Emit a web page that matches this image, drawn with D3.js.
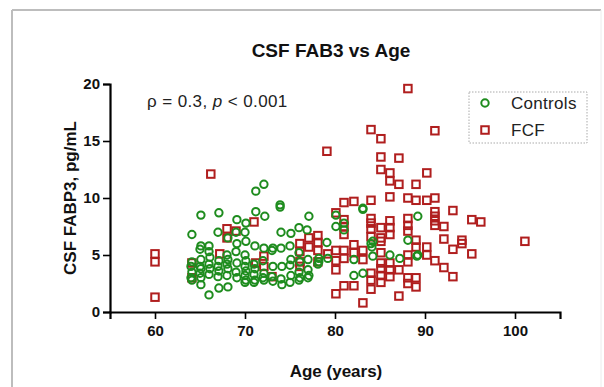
<!DOCTYPE html>
<html>
<head>
<meta charset="utf-8">
<script src="https://cdn.jsdelivr.net/npm/d3@7"></script>
<style>
  body { margin: 0; background: #fff; }
  svg { display: block; font-family: "Liberation Sans", Arial, sans-serif; }
</style>
</head>
<body>
<div id="chart"></div>
<script>
// values: [age, CSF FABP3]
const controls = [
  [64.1,6.8],[64.1,4.4],[64.0,4.0],[64.1,3.5],[64.0,3.0],[64.1,2.8],
  [65.1,8.5],[65.1,5.8],[65.0,5.5],[65.1,4.6],[65.0,4.0],[65.1,3.8],[65.0,3.4],[65.1,3.0],[65.1,2.4],
  [66.0,5.8],[66.0,5.3],[66.1,4.8],[66.0,4.2],[66.1,3.8],[66.0,3.3],[66.0,1.5],
  [67.1,8.7],[67.0,7.0],[67.1,4.5],[67.0,4.0],[67.1,3.6],[67.0,3.1],[67.1,2.1],
  [68.1,6.5],[68.0,5.0],[68.1,4.6],[68.0,4.2],[68.1,3.8],[68.0,3.2],[68.1,2.2],
  [69.1,8.1],[69.0,7.0],[69.1,6.0],[69.0,5.3],[69.1,4.3],[69.0,3.5],[69.1,3.0],
  [70.1,7.8],[70.0,7.0],[70.1,6.2],[70.0,5.0],[70.1,4.5],[70.0,4.0],[70.1,3.6],[70.0,3.2],[70.1,2.8],[70.0,2.6],
  [71.2,10.6],[71.2,8.8],[71.1,5.8],[71.0,4.2],[71.1,3.8],[71.0,3.3],[71.1,2.8],[71.0,2.6],
  [72.1,11.2],[72.2,8.4],[72.1,5.6],[72.0,4.5],[72.1,3.4],[72.0,3.0],[72.1,2.8],
  [73.1,5.6],[73.0,5.4],[73.1,4.0],[73.0,3.1],[73.1,2.7],
  [73.9,9.4],[73.9,9.2],[74.0,7.0],[74.0,5.6],[74.1,4.0],[74.0,2.9],[74.1,2.4],
  [75.1,6.9],[75.0,5.8],[75.1,4.6],[75.0,4.1],[75.1,3.2],[75.0,2.6],
  [76.0,7.4],[76.0,5.2],[76.1,4.4],[76.0,3.5],[76.1,3.0],[76.0,2.8],
  [77.1,8.4],[76.9,7.2],[77.0,4.6],[77.0,3.7],[77.1,3.2],[77.0,3.0],
  [78.2,4.7],[78.2,4.4],[78.1,4.2],
  [79.1,6.1],[79.2,4.7],
  [80.1,8.5],[80.1,7.5],[81.0,7.8],[81.0,7.2],
  [82.1,4.6],[82.1,3.2],[83.1,9.1],[83.1,9.0],[83.1,3.4],
  [84.2,6.2],[84.0,6.0],[84.1,5.7],[84.2,4.9],
  [86.1,5.0],[87.2,4.7],[88.1,6.3],[89.2,8.4],[89.2,5.0],[89.1,4.9]
];

const fcf = [
  [60.0,5.1],[60.0,4.4],[60.0,1.3],
  [64.1,4.3],[64.1,3.0],
  [66.2,12.1],
  [67.2,5.1],[68.0,7.3],[68.0,6.5],[69.0,7.1],
  [71.0,7.9],[71.2,4.3],[72.1,4.9],[72.1,4.0],[73.0,3.1],
  [76.1,6.0],[76.1,5.3],[76.1,4.4],[76.1,4.0],[77.1,6.5],[77.1,5.7],
  [78.1,6.7],[78.1,6.1],[78.1,5.4],[78.1,4.4],[79.1,14.1],[79.2,5.1],
  [80.1,8.7],[80.1,5.4],[80.1,4.5],[80.1,3.7],[80.1,1.6],
  [81.0,9.6],[81.0,8.1],[81.0,7.5],[81.0,6.8],[81.0,5.4],[81.0,4.7],[81.0,2.3],
  [82.1,9.7],[82.1,5.9],[82.1,5.2],[82.1,2.3],
  [83.1,5.4],[83.1,4.6],[83.1,0.8],
  [84.0,16.0],[84.0,9.8],[84.0,8.2],[84.0,7.8],[84.0,7.3],[84.0,6.6],[84.0,3.4],[84.0,2.8],[84.0,2.0],
  [85.1,15.2],[85.1,13.6],[85.1,12.5],[85.1,7.4],[85.1,6.5],[85.1,6.2],[85.1,5.2],[85.1,4.3],[85.1,3.8],[85.1,3.2],[85.1,2.6],
  [86.1,12.2],[86.1,11.5],[86.1,10.1],[86.1,8.0],[86.1,7.4],[86.1,6.8],[86.1,4.3],[86.1,3.7],[86.1,3.1],
  [87.1,13.5],[87.1,11.2],[87.1,3.7],[87.1,1.4],
  [88.1,19.6],[88.1,10.0],[88.1,8.2],[88.1,7.6],[88.1,7.1],[88.1,5.0],[88.1,4.4],[88.1,3.0],[88.1,2.5],
  [89.0,11.2],[89.0,9.8],[89.0,6.3],[89.0,5.7],[89.0,3.0],[89.0,2.2],
  [90.2,12.2],[90.2,9.8],[90.2,5.7],[90.2,5.0],
  [91.1,15.9],[91.1,10.0],[91.1,8.8],[91.1,8.4],[91.1,8.0],[91.1,7.6],[91.1,4.5],
  [92.1,7.5],[92.1,6.4],[92.1,3.9],
  [93.1,8.9],[93.1,5.5],[93.1,3.1],
  [94.1,6.3],[94.1,6.0],
  [95.2,8.1],[95.2,5.1],[96.2,7.9],
  [101.1,6.2]
];

const xMajor = [60, 70, 80, 90, 100];
const xMinor = [55, 65, 75, 85, 95, 105];
const yMajor = [0, 5, 10, 15, 20];
const yMinor = [2.5, 7.5, 12.5, 17.5];
const seriesNames = ["Controls", "FCF"];

const green = "#1e8c1e", red = "#b01e1e";
const W = 604, H = 387;
const margin = {top: 84, right: 44, bottom: 75, left: 110};
const width = W - margin.left - margin.right,
      height = H - margin.top - margin.bottom;

const svg = d3.select("#chart").append("svg")
  .attr("width", W).attr("height", H);

// outer frame (top/left darker, right edge faint)
svg.append("line").attr("x1", 12).attr("y1", 10).attr("x2", 601).attr("y2", 10)
  .attr("stroke", "#bdbdbd").attr("stroke-width", 2);
svg.append("line").attr("x1", 12).attr("y1", 10).attr("x2", 12).attr("y2", 387)
  .attr("stroke", "#bdbdbd").attr("stroke-width", 2);
svg.append("line").attr("x1", 601).attr("y1", 10).attr("x2", 601).attr("y2", 387)
  .attr("stroke", "#ececec").attr("stroke-width", 1);

const g = svg.append("g")
  .attr("transform", "translate(" + margin.left + "," + margin.top + ")");

const x = d3.scaleLinear().domain([55, 105]).range([0, width]);
const y = d3.scaleLinear().domain([0, 20]).range([height, 0]);

// FCF squares first, controls on top
const sq = 7.5;
g.selectAll(".fcf").data(fcf).enter().append("rect")
  .attr("class", "fcf")
  .attr("x", d => x(d[0]) - sq / 2)
  .attr("y", d => y(d[1]) - sq / 2)
  .attr("width", sq).attr("height", sq)
  .attr("fill", "none").attr("stroke", red).attr("stroke-width", 2);

g.selectAll(".ctl").data(controls).enter().append("circle")
  .attr("class", "ctl")
  .attr("cx", d => x(d[0]))
  .attr("cy", d => y(d[1]))
  .attr("r", 3.7)
  .attr("fill", "none").attr("stroke", green).attr("stroke-width", 2);

// axes
const xAxis = g.append("g").attr("transform", "translate(0," + height + ")");
xAxis.call(d3.axisBottom(x).tickValues(xMinor).tickSize(4).tickFormat(""));
xAxis.call(d3.axisBottom(x).tickValues(xMajor).tickSize(7).tickPadding(6));
xAxis.selectAll("path").attr("stroke-width", 2.2);
xAxis.selectAll("line").attr("stroke-width", 1.6);
xAxis.selectAll("text").attr("font-size", 15).attr("font-weight", "bold")
  .attr("font-family", "Liberation Sans, Arial, sans-serif").attr("fill", "#111");

const yAxis = g.append("g");
yAxis.call(d3.axisLeft(y).tickValues(yMinor).tickSize(4).tickFormat(""));
yAxis.call(d3.axisLeft(y).tickValues(yMajor).tickSize(7).tickPadding(3));
yAxis.selectAll("path").attr("stroke-width", 2.2);
yAxis.selectAll("line").attr("stroke-width", 1.6);
yAxis.selectAll("text").attr("font-size", 15).attr("font-weight", "bold")
  .attr("font-family", "Liberation Sans, Arial, sans-serif").attr("fill", "#111");

// titles
svg.append("text")
  .attr("x", margin.left + width / 2 - 4).attr("y", 57)
  .attr("text-anchor", "middle").attr("font-size", 19).attr("font-weight", "bold")
  .attr("fill", "#111").text("CSF FAB3 vs Age");

svg.append("text")
  .attr("x", 336).attr("y", 377)
  .attr("text-anchor", "middle").attr("font-size", 17).attr("font-weight", "bold")
  .attr("fill", "#111").text("Age (years)");

svg.append("text")
  .attr("transform", "translate(76," + (margin.top + height / 2) + ") rotate(-90)")
  .attr("text-anchor", "middle").attr("font-size", 17).attr("font-weight", "bold")
  .attr("fill", "#111").text("CSF FABP3, pg/mL");

// correlation note
const note = svg.append("text").attr("x", 147).attr("y", 107)
  .attr("font-size", 17).attr("letter-spacing", 0.4).attr("fill", "#222");
note.append("tspan").text("\u03C1 = 0.3, ");
note.append("tspan").attr("font-style", "italic").text("p");
note.append("tspan").text(" < 0.001");

// legend
const leg = svg.append("g").attr("transform", "translate(469,92)");
leg.append("rect").attr("width", 118).attr("height", 51)
  .attr("fill", "none").attr("stroke", "#aaa").attr("stroke-width", 1)
  .attr("stroke-dasharray", "1.5,1.5");
leg.append("circle").attr("cx", 16).attr("cy", 11).attr("r", 3.7)
  .attr("fill", "none").attr("stroke", green).attr("stroke-width", 2);
leg.append("rect").attr("x", 12.25).attr("y", 34.25).attr("width", sq).attr("height", sq)
  .attr("fill", "none").attr("stroke", red).attr("stroke-width", 2);
leg.selectAll(".lt").data(seriesNames).enter().append("text")
  .attr("x", 42).attr("y", (d, i) => 17 + i * 27)
  .attr("font-size", 17).attr("letter-spacing", 0.3).attr("fill", "#222").text(d => d);
</script>
</body>
</html>
